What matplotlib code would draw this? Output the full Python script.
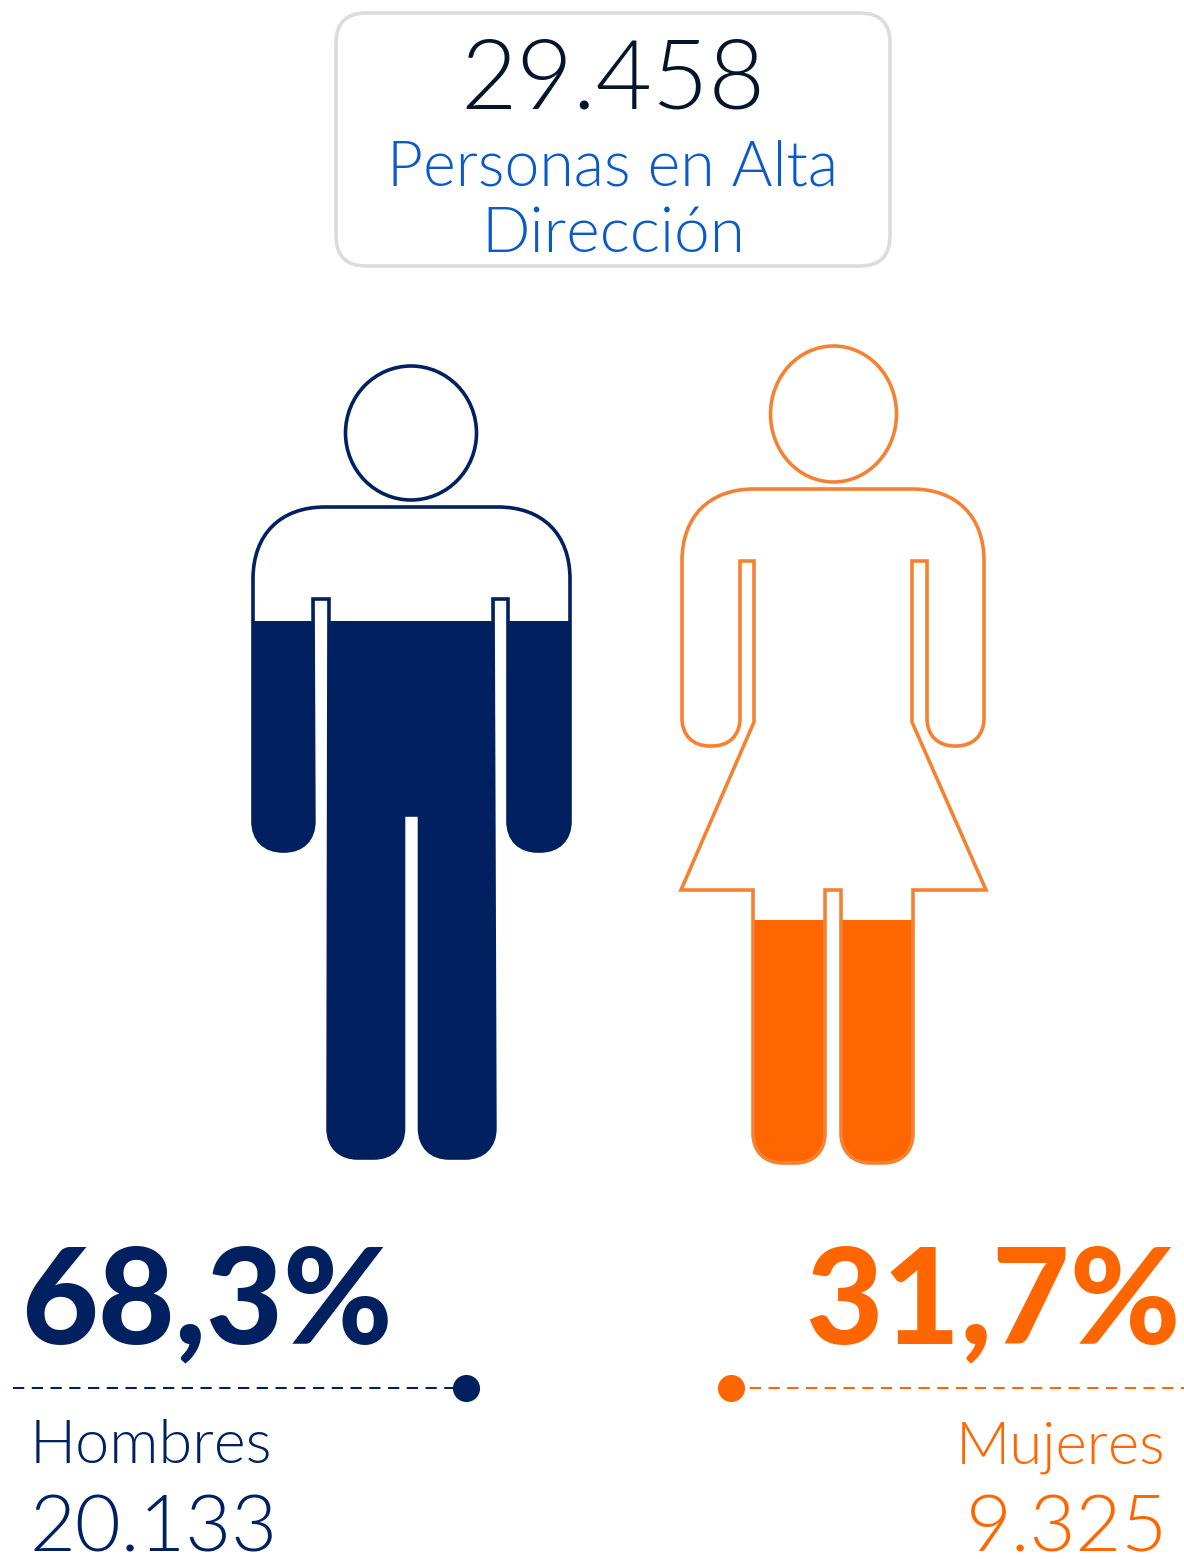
import matplotlib
matplotlib.use("Agg")
import matplotlib.pyplot as plt
from matplotlib.patches import Ellipse, FancyBboxPatch, PathPatch
from matplotlib.path import Path

# datos
total = 29458
total_label = ["Personas en Alta", "Dirección"]
groups = ["Hombres", "Mujeres"]
counts = [20133, 9325]
shares = [68.3, 31.7]

W, H = 1184, 1559
NAVY = "#002060"
ORANGE = "#FF6600"
ORANGE_LINE = "#F58233"
BLUE = "#0B5AC8"
DARK = "#051529"
FONT = ["Lato", "DejaVu Sans"]

# silueta: (x, y, radio de la esquina) en pixeles de la imagen
man_outline = [
    (253, 507, 72), (570, 507, 72), (570, 851, 30), (508, 851, 30),
    (508, 599, 0), (493, 599, 0), (495, 1158, 30), (419.5, 1158, 30),
    (419.5, 815, 0), (403.5, 815, 0), (403.5, 1158, 30), (328, 1158, 30),
    (329, 599, 0), (313, 599, 0), (314, 851, 30), (253, 851, 30),
]
woman_outline = [
    (682, 489, 72), (984, 489, 72), (984, 746, 28), (927, 746, 28),
    (927, 561, 0), (912, 561, 0), (912, 722, 0), (986, 890, 0),
    (913, 890, 0), (913, 1163, 30), (841, 1163, 30), (841, 890, 0),
    (825, 890, 0), (825, 1163, 30), (753, 1163, 30), (753, 890, 0),
    (681, 890, 0), (754, 722, 0), (754, 561, 0), (740, 561, 0),
    (740, 746, 28), (682, 746, 28),
]


def rounded_path(points):
    """Poligono cerrado con esquinas redondeadas"""
    k = 0.62
    verts, codes = [], []
    n = len(points)
    for i in range(n):
        x, y, r = points[i]
        px, py, _ = points[i - 1]
        nx, ny, _ = points[(i + 1) % n]
        d1 = ((px - x) ** 2 + (py - y) ** 2) ** 0.5
        d2 = ((nx - x) ** 2 + (ny - y) ** 2) ** 0.5
        ux, uy = (px - x) / d1, (py - y) / d1
        vx, vy = (nx - x) / d2, (ny - y) / d2
        start = (x + ux * r, y + uy * r)
        end = (x + vx * r, y + vy * r)
        verts.append(start)
        codes.append(Path.MOVETO if i == 0 else Path.LINETO)
        if r > 0:
            verts += [(x + ux * r * (1 - k), y + uy * r * (1 - k)),
                      (x + vx * r * (1 - k), y + vy * r * (1 - k)), end]
            codes += [Path.CURVE4] * 3
    verts.append(verts[0])
    codes.append(Path.CLOSEPOLY)
    return Path(verts, codes)


def draw_person(ax, outline, head, share, bottom, full_height, fill, line, center):
    path = rounded_path(outline)
    # el relleno sube segun el porcentaje
    level = share / 100 * full_height
    bars = ax.bar(center, -level, width=400, bottom=bottom, color=fill, linewidth=0, zorder=2)
    patch = PathPatch(path, facecolor="none", edgecolor=line, lw=2.6, joinstyle="miter", zorder=3)
    ax.add_patch(patch)
    for b in bars:
        b.set_clip_path(patch)
    ax.add_patch(Ellipse(head[:2], head[2], head[3], fc="none", ec=line, lw=2.6, zorder=3))


fig = plt.figure(figsize=(W / 100, H / 100), dpi=100)
ax = fig.add_axes([0, 0, 1, 1])
ax.set_xlim(0, W)
ax.set_ylim(H, 0)
ax.axis("off")

# recuadro del total
ax.add_patch(FancyBboxPatch((336, 13), 554, 253, boxstyle="round,pad=0,rounding_size=30",
                            fc="white", ec="#DCDCDC", lw=2.6, zorder=1))
ax.text(612.5, 108, f"{total:,}".replace(",", "."), ha="center", va="baseline", fontsize=70,
        color=DARK, family=FONT, fontweight=300, zorder=4)
ax.text(613, 185, total_label[0], ha="center", va="baseline", fontsize=45,
        color=BLUE, family=FONT, fontweight=300, zorder=4)
ax.text(613, 252, total_label[1], ha="center", va="baseline", fontsize=46,
        color=BLUE, family=FONT, fontweight=300, zorder=4)

draw_person(ax, man_outline, (411, 433, 131, 134), shares[0], 1158, 786, NAVY, NAVY, 411)
draw_person(ax, woman_outline, (833.5, 414, 126, 136), shares[1], 1163, 766, ORANGE, ORANGE_LINE, 833)

# rotulos de abajo
ax.text(21, 1343, f"{shares[0]:.1f}%".replace(".", ","), ha="left", va="baseline", fontsize=95.5,
        color=NAVY, family=FONT, fontweight="black")
ax.text(1181, 1343, f"{shares[1]:.1f}%".replace(".", ","), ha="right", va="baseline", fontsize=96.5,
        color=ORANGE, family=FONT, fontweight="black")

ax.plot([13, 466], [1388, 1388], color=NAVY, lw=1.5, dashes=(5.4, 3.6))
ax.plot([466], [1388], "o", color=NAVY, ms=19.5, mew=0)
ax.plot([731, 1184], [1388, 1388], color=ORANGE, lw=1.5, dashes=(5.4, 3.6))
ax.plot([731], [1388], "o", color=ORANGE, ms=19.5, mew=0)

ax.text(30, 1463, groups[0], ha="left", va="baseline", fontsize=44,
        color=NAVY, family=FONT, fontweight=300)
ax.text(1165, 1463, groups[1], ha="right", va="baseline", fontsize=43,
        color=ORANGE, family=FONT, fontweight=300)
ax.text(29, 1552, f"{counts[0]:,}".replace(",", "."), ha="left", va="baseline", fontsize=57,
        color=NAVY, family=FONT, fontweight=300)
ax.text(1168, 1552, f"{counts[1]:,}".replace(",", "."), ha="right", va="baseline", fontsize=57,
        color=ORANGE, family=FONT, fontweight=300)

fig.savefig("out.png", dpi=100, facecolor="white")
